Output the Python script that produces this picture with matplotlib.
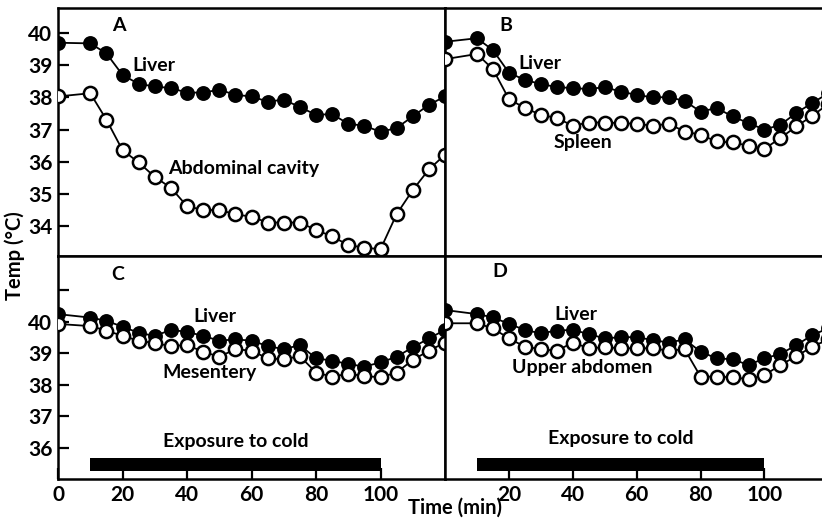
import numpy as np
import matplotlib
matplotlib.use("Agg")
import matplotlib.pyplot as plt

plt.rcParams['font.family'] = ['Lato', 'DejaVu Sans']
plt.rcParams['font.weight'] = 'bold'

# sampling times (min)
times = [0] + list(range(10, 125, 5))

# panel A
liver_a = [39.70, 39.68, 39.37, 38.70, 38.42, 38.34, 38.29, 38.15, 38.15, 38.24, 38.08, 38.03,
           37.87, 37.93, 37.70, 37.46, 37.48, 37.18, 37.12, 36.93, 37.05, 37.41, 37.77, 38.03]
abdominal = [38.03, 38.13, 37.31, 36.36, 35.98, 35.53, 35.19, 34.62, 34.50, 34.50, 34.37, 34.29,
             34.11, 34.11, 34.11, 33.88, 33.68, 33.41, 33.33, 33.28, 34.37, 35.12, 35.76, 36.22]

# panel B
liver_b = [39.73, 39.84, 39.47, 38.77, 38.54, 38.42, 38.32, 38.29, 38.26, 38.32, 38.18, 38.08,
           38.00, 38.01, 37.89, 37.56, 37.67, 37.41, 37.20, 37.00, 37.15, 37.52, 37.83, 38.13]
spleen = [39.19, 39.35, 38.88, 37.95, 37.67, 37.46, 37.36, 37.12, 37.22, 37.22, 37.20, 37.18,
          37.12, 37.18, 36.94, 36.84, 36.63, 36.60, 36.50, 36.40, 36.74, 37.10, 37.43, 37.80]

# panel C
liver_c = [40.24, 40.13, 40.03, 39.84, 39.65, 39.55, 39.74, 39.68, 39.55, 39.40, 39.44, 39.40,
           39.23, 39.13, 39.26, 38.84, 38.77, 38.66, 38.58, 38.71, 38.89, 39.19, 39.47, 39.74]
mesentery = [39.93, 39.86, 39.72, 39.55, 39.40, 39.32, 39.23, 39.26, 39.05, 38.89, 39.13, 39.08,
             38.84, 38.81, 38.91, 38.39, 38.26, 38.35, 38.28, 38.24, 38.39, 38.79, 39.08, 39.34]

# panel D
liver_d = [40.37, 40.24, 40.14, 39.93, 39.74, 39.63, 39.72, 39.74, 39.61, 39.47, 39.51, 39.51,
           39.42, 39.34, 39.44, 39.05, 38.84, 38.81, 38.63, 38.84, 38.98, 39.26, 39.58, 39.79]
upper_abd = [39.95, 39.95, 39.79, 39.47, 39.21, 39.13, 39.08, 39.34, 39.16, 39.19, 39.16, 39.16,
             39.16, 39.08, 39.13, 38.26, 38.26, 38.24, 38.18, 38.31, 38.63, 38.91, 39.21, 39.44]

cold_start, cold_end = 10, 100

fig = plt.figure(figsize=(8.22, 5.19), dpi=100)

W, H = 822, 519
def box(x0, y0, x1, y1):
    return [x0 / W, 1 - y1 / H, (x1 - x0) / W, (y1 - y0) / H]

ax_a = fig.add_axes(box(58, 8, 445, 256))
ax_b = fig.add_axes(box(445, 8, 822, 256))
ax_c = fig.add_axes(box(58, 256, 445, 479))
ax_d = fig.add_axes(box(445, 256, 822, 479))

def draw(ax, filled, opened):
    ax.plot(times, filled, color='black', lw=1.3, marker='o', ms=9.5,
            mfc='black', mec='black', mew=1.2, zorder=3)
    ax.plot(times, opened, color='black', lw=1.3, marker='o', ms=9.5,
            mfc='white', mec='black', mew=1.8, zorder=4)

draw(ax_a, liver_a, abdominal)
draw(ax_b, liver_b, spleen)
draw(ax_c, liver_c, mesentery)
draw(ax_d, liver_d, upper_abd)

for ax in (ax_a, ax_c):
    ax.set_xlim(0, 120)
for ax in (ax_b, ax_d):
    ax.set_xlim(0, 118)
    ax.spines['right'].set_visible(False)
for ax in (ax_a, ax_b):
    ax.set_ylim(33.07, 40.78)
for ax in (ax_c, ax_d):
    ax.set_ylim(35.02, 42.08)

for ax in (ax_a, ax_b, ax_c, ax_d):
    for s in ax.spines.values():
        s.set_linewidth(1.8)
    ax.tick_params(direction='in', length=8, width=1.6, labelsize=15, pad=4)

ax_a.set_yticks(range(34, 41))
ax_a.set_xticks([])
ax_b.set_yticks([])
ax_b.set_xticks([])
ax_c.set_yticks(range(36, 42))
ax_c.set_yticklabels(['36', '37', '38', '39', '40', ''])
ax_c.set_xticks(range(0, 101, 20))
ax_d.set_yticks([])
ax_d.set_xticks(range(20, 101, 20))
for ax in (ax_a, ax_c):
    for lab in ax.get_yticklabels() + ax.get_xticklabels():
        lab.set_fontweight('bold')
for lab in ax_d.get_xticklabels():
    lab.set_fontweight('bold')

# exposure bars
for ax, ytxt in ((ax_c, 36.2), (ax_d, 36.3)):
    ax.fill_between([cold_start, cold_end], 35.27, 35.68, color='black', lw=0)
    ax.text((cold_start + cold_end) / 2, ytxt, 'Exposure to cold', ha='center',
            va='center', fontsize=14, fontweight='bold')

kw = dict(fontsize=14, fontweight='bold', va='center')
ax_a.text(19, 40.25, 'A', ha='center', **kw)
ax_a.text(23, 39.0, 'Liver', ha='left', **kw)
ax_a.text(34, 35.8, 'Abdominal cavity', ha='left', **kw)
ax_b.text(19, 40.25, 'B', ha='center', **kw)
ax_b.text(23, 39.05, 'Liver', ha='left', **kw)
ax_b.text(34, 36.6, 'Spleen', ha='left', **kw)
ax_c.text(18.5, 41.5, 'C', ha='center', **kw)
ax_c.text(48.5, 40.15, 'Liver', ha='center', **kw)
ax_c.text(47, 38.4, 'Mesentery', ha='center', **kw)
ax_d.text(17, 41.58, 'D', ha='center', **kw)
ax_d.text(41, 40.22, 'Liver', ha='center', **kw)
ax_d.text(43, 38.55, 'Upper abdomen', ha='center', **kw)

fig.text(15 / W, 1 - 256 / H, 'Temp (°C)', rotation=90, ha='center', va='center',
         fontsize=14.5, fontweight='bold')
fig.text(455 / W, 1 - 508 / H, 'Time (min)', ha='center', va='center',
         fontsize=14.5, fontweight='bold')

fig.savefig('out.png', dpi=100)
